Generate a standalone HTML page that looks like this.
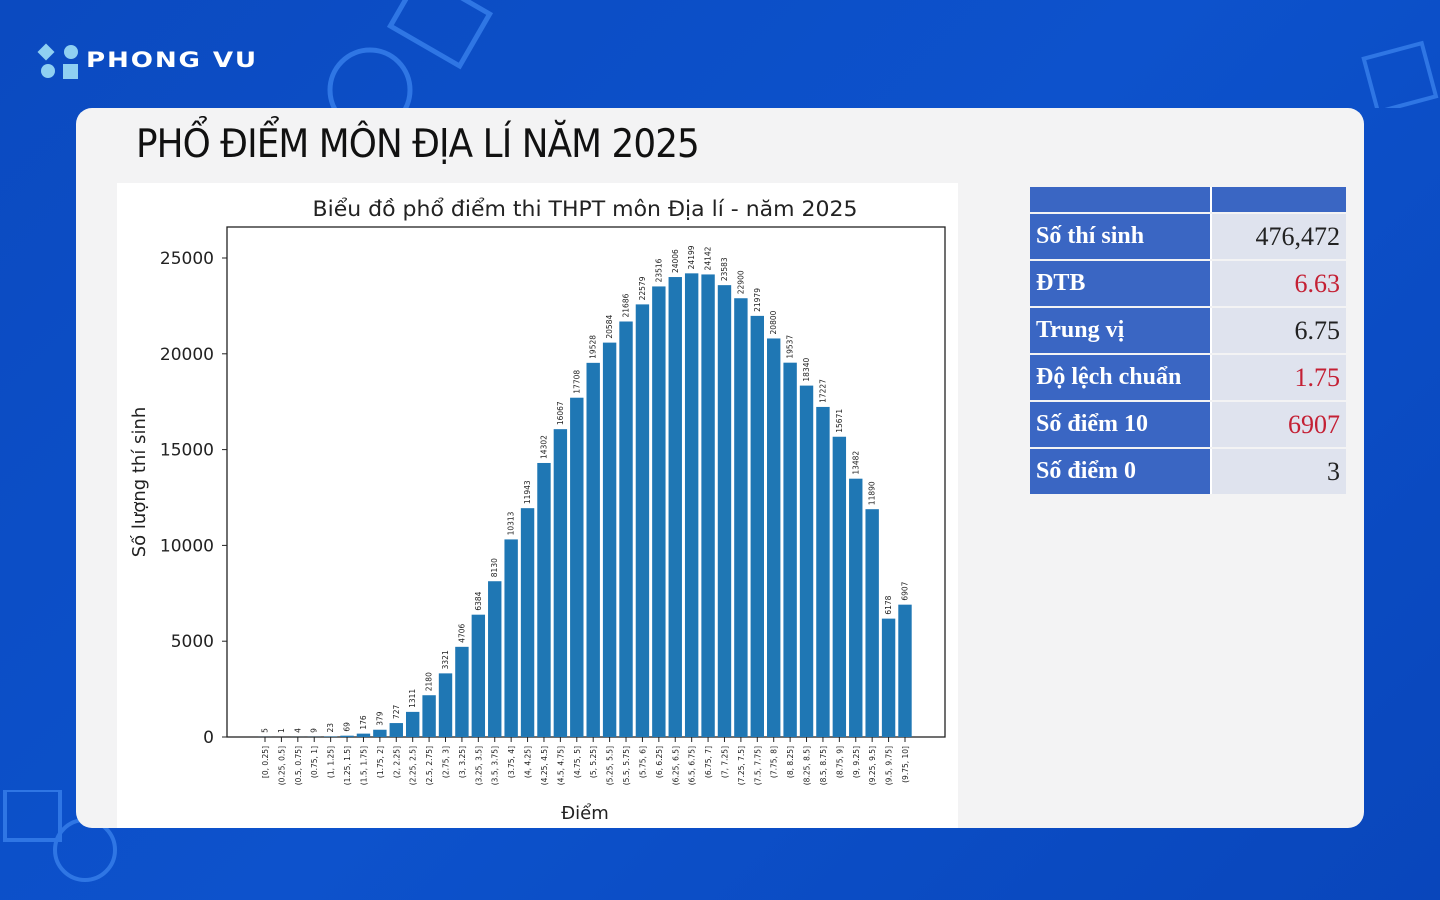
<!DOCTYPE html>
<html><head><meta charset="utf-8"><style>
body{margin:0;width:1440px;height:900px;overflow:hidden;background:linear-gradient(135deg,#0b4ac0 0%,#0d52cc 50%,#0946bb 100%);font-family:"Liberation Sans",sans-serif;position:relative}
.card{position:absolute;left:76px;top:108px;width:1288px;height:720px;background:#f3f3f4;border-radius:16px;overflow:hidden}
.title{position:absolute;left:60px;top:14px;font-size:39px;color:#111;letter-spacing:-1px;font-family:"DejaVu Sans","Liberation Sans",sans-serif;transform:scaleX(0.917);transform-origin:left;white-space:nowrap}
.chart{position:absolute;left:41px;top:75px;width:841px;height:645px;background:#fff}
table{position:absolute;left:954px;top:77px;border-collapse:separate;border-spacing:0 2px;font-family:"Liberation Serif",serif;font-weight:bold;font-size:24px}
td{height:45px;padding:0 6px}
td.l{background:#3a66c3;color:#fff;width:168px;border-right:2px solid #fff}
td.r{background:#dfe3ee;color:#222;width:122px;text-align:right;font-weight:normal;font-size:26px}
.red{color:#c42034 !important}
</style></head><body>
<svg width="1440" height="108" style="position:absolute;left:0;top:0">
<rect x="400" y="-10" width="80" height="60" fill="none" stroke="#2f76e4" stroke-width="5" transform="rotate(30 440 20)"/>
<circle cx="370" cy="90" r="40" fill="none" stroke="#2f76e4" stroke-width="5"/>
<rect x="1370" y="50" width="60" height="55" fill="none" stroke="#2f76e4" stroke-width="4" transform="rotate(-15 1400 78)"/>
<rect x="40" y="46" width="12" height="12" fill="#8fd0f2" transform="rotate(45 46 52)"/>
<circle cx="71" cy="52" r="7" fill="#8fd0f2"/>
<circle cx="48" cy="71" r="7" fill="#8fd0f2"/>
<rect x="63" y="64" width="15" height="15" fill="#8fd0f2"/>
<text x="86" y="67" font-family="DejaVu Sans" font-weight="bold" font-size="21" fill="#fff" letter-spacing="1.5" textLength="172" lengthAdjust="spacingAndGlyphs">PHONG VU</text>
</svg>
<svg width="130" height="100" style="position:absolute;left:0;top:790px"><rect x="5" y="0" width="55" height="50" fill="none" stroke="#2f76e4" stroke-width="4"/><circle cx="85" cy="60" r="30" fill="none" stroke="#2f76e4" stroke-width="4"/></svg>
<div class="card">
<div class="title">PHỔ ĐIỂM MÔN ĐỊA LÍ NĂM 2025</div>
<div class="chart"><svg id="c" width="841" height="645"></svg></div>
<table>
<tr><td class="l" style="height:25px"></td><td class="r" style="height:25px;background:#3a66c3"></td></tr>
<tr><td class="l">Số thí sinh</td><td class="r">476,472</td></tr>
<tr><td class="l">ĐTB</td><td class="r red">6.63</td></tr>
<tr><td class="l">Trung vị</td><td class="r">6.75</td></tr>
<tr><td class="l">Độ lệch chuẩn</td><td class="r red">1.75</td></tr>
<tr><td class="l">Số điểm 10</td><td class="r red">6907</td></tr>
<tr><td class="l">Số điểm 0</td><td class="r">3</td></tr>
</table>
</div>
<script>
const v=[5,1,4,9,23,69,176,379,727,1311,2180,3321,4706,6384,8130,10313,11943,14302,16067,17708,19528,20584,21686,22579,23516,24006,24199,24142,23583,22900,21979,20800,19537,18340,17227,15671,13482,11890,6178,6907];
const ox=117,oy=183;let s='';
const X=x=>x-ox,Y=y=>y-oy;
s+=`<text x="${X(585)}" y="${Y(216)}" font-size="21" text-anchor="middle" fill="#222" font-family="DejaVu Sans" textLength="545" lengthAdjust="spacingAndGlyphs">Biểu đồ phổ điểm thi THPT môn Địa lí - năm 2025</text>`;
s+=`<rect x="${X(227)}" y="${Y(227)}" width="718" height="510" fill="none" stroke="#222" stroke-width="1.3"/>`;
for(let t=0;t<=25000;t+=5000){const y=Y(737-t*0.01916);s+=`<line x1="${X(222)}" x2="${X(227)}" y1="${y}" y2="${y}" stroke="#222"/><text x="${X(214)}" y="${y+6}" font-size="17" text-anchor="end" fill="#222" font-family="DejaVu Sans">${t}</text>`;}
s+=`<text transform="translate(${X(145)},${Y(482)}) rotate(-90)" font-size="18" text-anchor="middle" fill="#222" font-family="DejaVu Sans">Số lượng thí sinh</text>`;
s+=`<text x="${X(585)}" y="${Y(819)}" font-size="18" text-anchor="middle" fill="#222" font-family="DejaVu Sans">Điểm</text>`;
v.forEach((n,i)=>{const cx=X(265+i*16.41);const h=n*0.01916;const top=Y(737)-h;
s+=`<rect x="${cx-6.7}" y="${top}" width="13.4" height="${h}" fill="#1f77b4"/>`;
s+=`<text transform="translate(${cx+2.5},${top-4}) rotate(-90)" font-size="7.5" fill="#222" font-family="DejaVu Sans">${n}</text>`;
s+=`<line x1="${cx}" x2="${cx}" y1="${Y(737)}" y2="${Y(742)}" stroke="#222"/>`;
const a=i*0.25,b=a+0.25;const lab=(i==0?'[':'(')+a+', '+b+']';
s+=`<text transform="translate(${cx+3},${Y(746)}) rotate(-90)" font-size="7.5" text-anchor="end" fill="#222" font-family="DejaVu Sans">${lab}</text>`;});
document.getElementById('c').innerHTML=s;
</script>
</body></html>
